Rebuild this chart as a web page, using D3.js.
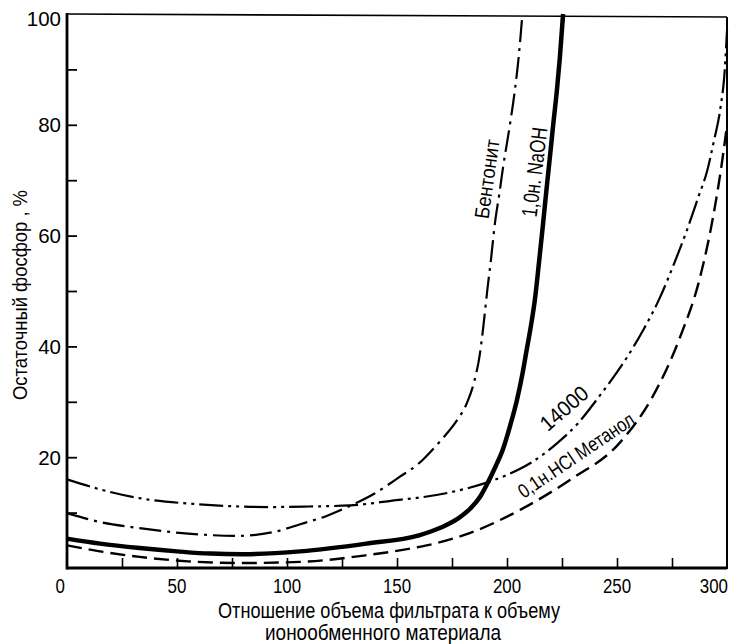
<!DOCTYPE html>
<html>
<head>
<meta charset="utf-8">
<script src="https://cdn.jsdelivr.net/npm/d3@7"></script>
<style>
  html, body { margin: 0; padding: 0; background: #fff; }
  svg { display: block; }
  .narrow { font-family: "Liberation Sans", Arial, Helvetica, sans-serif; }
  .wide { font-family: "Liberation Sans", Arial, Helvetica, sans-serif; }
</style>
</head>
<body>
<svg id="chart" width="733" height="644"></svg>
<script>
// ---------------- data ----------------
const xTickLabels = [0, 50, 100, 150, 200, 250, 300];
const xMinorTicks = [25, 50, 75, 100, 125, 150, 175, 200, 225, 250, 275];
const yTickLabels = [20, 40, 60, 80, 100];
const yMinorTicks = [10, 20, 30, 40, 50, 60, 70, 80, 90];

const xTitle = ["Отношение объема фильтрата к объему", "ионообменного материала"];
const yTitle = "Остаточный  фосфор , %";

// 14000 (dash-dot-dot)
const series14000 = [
  [0,16],[15,14.2],[33,12.6],[60,11.5],[78.6,11.1],[91,11.0],[110,11.1],[128.6,11.3],
  [151,12.3],[160,12.7],[177,13.9],[191.4,15.5],[200,16.8],[210.5,18.9],[222.7,22.5],
  [232,26],[241,30.5],[254.5,38],[262,43],[269.5,48.8],[276,55],[281.8,61],[287,67],
  [291,71.7],[294,77],[297,83],[299,90],[300,97]
];
// Бентонит (dash-dot)
const seriesBentonite = [
  [0,9.9],[15,8.3],[33,7.2],[55,6.2],[78,5.8],[95,6.6],[106,7.9],[118,9.4],[128.6,11.2],
  [140,13.5],[151,16.4],[160,18.9],[166,21.3],[171,23.5],[177,26.5],[181.8,29.8],[185,33.5],
  [187.7,38.7],[189.5,44.5],[191,50],[192.8,56],[194.5,62.2],[196.5,67.5],[198.2,72.3],
  [201.4,80.2],[203.6,86.3],[205.5,93],[207,100]
];
// 1,0н. NaOH (thick solid)
const seriesNaOH = [
  [0,5.3],[15,4.4],[33,3.6],[50,3.0],[65,2.6],[80,2.5],[106,3.0],[136,4.4],[160,5.9],
  [170,7.3],[178,9.0],[183,10.6],[188,13],[191.4,15.5],[195,18.5],[198.2,21.5],[201.5,25.8],
  [204.5,30.3],[207,35],[209,39.5],[211,44],[212.7,48.5],[214.5,55],[216.4,62.2],[218,68.5],
  [219.5,74.2],[221,80],[222.7,86.3],[224,92],[225.5,100]
];
// 0,1н. HCl Метанол (dashed)
const seriesHCl = [
  [0,4.1],[15,3.0],[33,2.0],[55,1.2],[78.6,0.9],[106,1.1],[136,2.3],[160,3.8],[166,4.3],
  [183,6.3],[206,10.5],[228.6,15.9],[251,22.5],[266,30.8],[278.6,41.6],[287.7,52.4],
  [293.6,63.2],[298,74],[300,80]
];

const curveLabels = [
  { text: "Бентонит", series: "bentonite" },
  { text: "1,0н. NaOH", series: "naoh" },
  { text: "14000", series: "s14000" },
  { text: "0,1н.HCl Метанол", series: "hcl" }
];

// ---------------- drawing ----------------
const svg = d3.select("#chart");
const x = d3.scaleLinear().domain([0, 300]).range([67, 727]);
const y = d3.scaleLinear().domain([0, 100]).range([568, 14]);

// ticks (inward)
svg.append("g")
  .attr("transform", `translate(0,${y(0)})`)
  .call(d3.axisBottom(x).tickValues(xMinorTicks).tickSize(-10).tickFormat(""))
  .call(g => g.select(".domain").remove())
  .call(g => g.selectAll("line").attr("stroke", "#000").attr("stroke-width", 1.6));

svg.append("g")
  .attr("transform", `translate(${x(0)},0)`)
  .call(d3.axisLeft(y).tickValues(yMinorTicks).tickSize(-10).tickFormat(""))
  .call(g => g.select(".domain").remove())
  .call(g => g.selectAll("line").attr("stroke", "#000").attr("stroke-width", 1.8));

// frame
const frame = svg.append("g").attr("fill", "none").attr("stroke", "#000");
frame.append("line").attr("x1", x(0)).attr("x2", x(0)).attr("y1", y(100) - 1).attr("y2", y(0) + 1.5).attr("stroke-width", 2.8);
frame.append("line").attr("x1", x(0)).attr("x2", x(300)).attr("y1", y(0)).attr("y2", y(0)).attr("stroke-width", 2.8);
frame.append("line").attr("x1", x(300)).attr("x2", x(300)).attr("y1", y(100) + 3).attr("y2", y(0) + 1).attr("stroke-width", 2);
frame.append("line").attr("x1", x(0)).attr("x2", x(300)).attr("y1", y(100)).attr("y2", y(100) + 3).attr("stroke-width", 1.6);

// tick labels
svg.append("g").attr("class", "narrow").attr("font-size", 20)
  .selectAll("text").data(xTickLabels).join("text")
  .attr("x", d => d === 0 ? x(d) - 2 : (d === 300 ? x(d) + 1 : x(d)))
  .attr("y", 593)
  .attr("text-anchor", d => (d === 0 || d === 300) ? "end" : "middle")
  .attr("textLength", d => String(d).length * 9.4)
  .attr("lengthAdjust", "spacingAndGlyphs")
  .text(d => d);

svg.append("g").attr("class", "wide").attr("font-size", 20.5)
  .selectAll("text").data(yTickLabels).join("text")
  .attr("x", 61)
  .attr("y", d => y(d) + (d === 100 ? 5 : 0))
  .attr("dy", "0.36em")
  .attr("text-anchor", "end")
  .text(d => d);

// axis titles
svg.append("g").attr("class", "narrow").attr("font-size", 21.5)
  .selectAll("text").data(xTitle).join("text")
  .attr("x", (d, i) => i === 0 ? 389 : 383)
  .attr("y", (d, i) => 618 + i * 22)
  .attr("text-anchor", "middle")
  .attr("textLength", (d, i) => i === 0 ? 342 : 236)
  .attr("lengthAdjust", "spacingAndGlyphs")
  .text(d => d);

svg.append("text").attr("class", "narrow").attr("font-size", 20.5)
  .attr("transform", "translate(27,295) rotate(-90)")
  .attr("text-anchor", "middle")
  .attr("textLength", 210)
  .attr("lengthAdjust", "spacingAndGlyphs")
  .text(yTitle);

// curves
const line = d3.line().x(d => x(d[0])).y(d => y(d[1])).curve(d3.curveMonotoneX);
const curves = [
  { data: series14000, w: 2.2, dash: "24,5,3,5,3,5" },
  { data: seriesBentonite, w: 2.2, dash: "22,6,3,6" },
  { data: seriesHCl, w: 2.4, dash: "15,7" },
  { data: seriesNaOH, w: 4.5, dash: null }
];
svg.append("g").selectAll("path").data(curves).join("path")
  .attr("d", d => line(d.data))
  .attr("fill", "none")
  .attr("stroke", "#000")
  .attr("stroke-width", d => d.w)
  .attr("stroke-dasharray", d => d.dash)
  .attr("stroke-linecap", "butt");

// curve labels (anchor = centre of baseline)
const labelPlacement = {
  bentonite: { cx: 494, cy: 180, rot: -82, size: 20.5, len: 80 },
  naoh: { cx: 542, cy: 173, rot: -83, size: 22, len: 90 },
  s14000: { cx: 569, cy: 414, rot: -41, size: 21.5, len: 56 },
  hcl: { cx: 580, cy: 461, rot: -34, size: 20, len: 136 }
};
svg.append("g").attr("class", "narrow")
  .selectAll("text").data(curveLabels).join("text")
  .each(function(d) {
    const p = labelPlacement[d.series];
    d3.select(this)
      .attr("transform", `translate(${p.cx},${p.cy}) rotate(${p.rot})`)
      .attr("font-size", p.size)
      .attr("text-anchor", "middle")
      .attr("textLength", p.len)
      .attr("lengthAdjust", "spacingAndGlyphs")
      .text(d.text);
  });
</script>
</body>
</html>
